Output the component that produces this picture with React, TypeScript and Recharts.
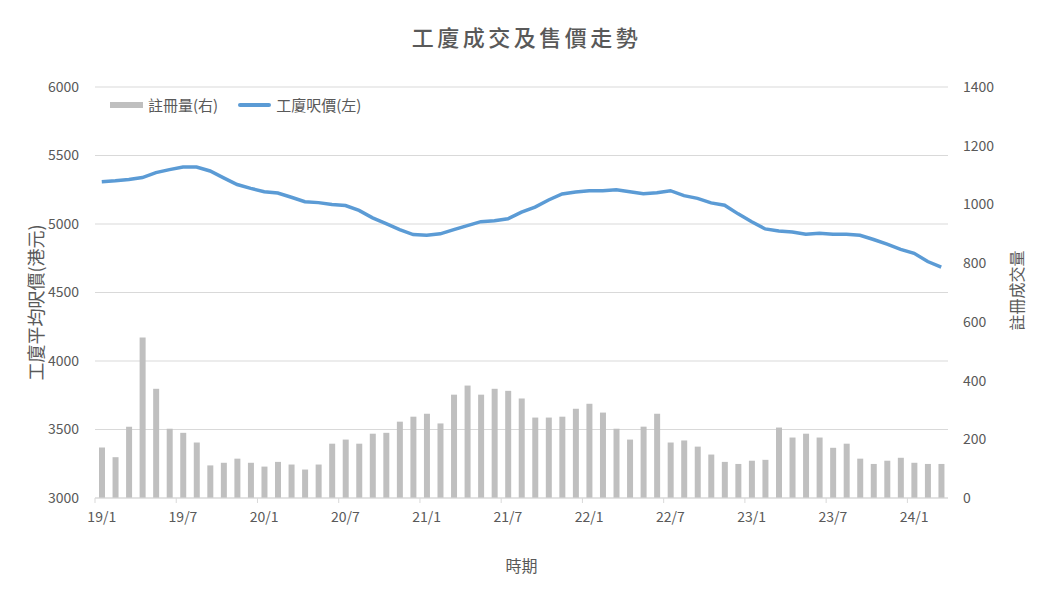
import React from 'react';
import {
  ComposedChart,
  Bar,
  Line,
  XAxis,
  YAxis,
  CartesianGrid,
  Legend,
} from 'recharts';

const months = [
  '19/1', '19/2', '19/3', '19/4', '19/5', '19/6', '19/7', '19/8', '19/9', '19/10', '19/11', '19/12',
  '20/1', '20/2', '20/3', '20/4', '20/5', '20/6', '20/7', '20/8', '20/9', '20/10', '20/11', '20/12',
  '21/1', '21/2', '21/3', '21/4', '21/5', '21/6', '21/7', '21/8', '21/9', '21/10', '21/11', '21/12',
  '22/1', '22/2', '22/3', '22/4', '22/5', '22/6', '22/7', '22/8', '22/9', '22/10', '22/11', '22/12',
  '23/1', '23/2', '23/3', '23/4', '23/5', '23/6', '23/7', '23/8', '23/9', '23/10', '23/11', '23/12',
  '24/1', '24/2', '24/3',
];

// 註冊量 (right axis)
const volume = [
  172, 139, 243, 547, 372, 236, 222, 189, 111, 120, 134, 120,
  107, 123, 114, 97, 114, 185, 199, 185, 219, 222, 260, 277,
  287, 254, 352, 383, 352, 372, 365, 339, 274, 274, 277, 304,
  321, 291, 236, 199, 243, 287, 189, 196, 175, 148, 123, 116,
  127, 130, 240, 206, 219, 206, 171, 185, 134, 116, 127, 137,
  120, 116, 116,
];

// 工廈呎價 (left axis)
const price = [
  5308, 5315, 5325, 5339, 5375, 5397, 5416, 5416, 5387, 5337, 5288, 5260,
  5236, 5226, 5195, 5163, 5156, 5142, 5135, 5099, 5045, 5002, 4959, 4923,
  4918, 4928, 4959, 4988, 5017, 5024, 5038, 5087, 5123, 5175, 5219, 5233,
  5243, 5243, 5250, 5236, 5221, 5228, 5243, 5207, 5187, 5154, 5137, 5074,
  5017, 4964, 4949, 4942, 4925, 4933, 4925, 4925, 4918, 4887, 4853, 4815,
  4786, 4726, 4685,
];

const leftTicks = [3000, 3500, 4000, 4500, 5000, 5500, 6000];
const rightTicks = [0, 200, 400, 600, 800, 1000, 1200, 1400];

const data = months.map((m, i) => ({ month: m, volume: volume[i], price: price[i] }));

const W = 1045;
const H = 593;
const LEFT_W = 95;
const RIGHT_W = 97;
const PLOT_W = W - LEFT_W - RIGHT_W;
const TICK_MARGIN = 14;
const TEXT = '#595959';
const FONT = '"Noto Sans CJK TC", "Noto Sans", sans-serif';

// tick mark sits on the left edge of the month, label in the middle
const MonthTick = (props: any) => {
  const { x, y, payload } = props;
  const half = PLOT_W / months.length / 2;
  return (
    <g>
      <line x1={x - half} x2={x - half} y1={y - TICK_MARGIN} y2={y - TICK_MARGIN + 5} stroke="#D9D9D9" />
      <text x={x} y={y} dy="0.71em" textAnchor="middle" fill={TEXT} fontSize={14}>
        {payload.value}
      </text>
    </g>
  );
};

// bars first, then the line
const LegendContent = (props: any) => {
  const items = [...props.payload].sort((a: any, b: any) => (a.type === 'rect' ? -1 : 0) - (b.type === 'rect' ? -1 : 0));
  return (
    <div style={{ display: 'flex', alignItems: 'center', fontSize: 15, color: TEXT, whiteSpace: 'nowrap' }}>
      {items.map((p: any) => (
        <div key={p.value} style={{ display: 'flex', alignItems: 'center', marginRight: 20 }}>
          <span
            style={{
              display: 'inline-block',
              width: 33,
              height: p.type === 'rect' ? 6 : 4,
              borderRadius: p.type === 'rect' ? 0 : 2,
              background: p.color,
              marginRight: 5,
            }}
          />
          {p.value}
        </div>
      ))}
    </div>
  );
};

export default function App() {
  return (
    <div style={{ position: 'absolute', left: 0, top: 0, width: W, height: H, fontFamily: FONT, background: '#fff' }}>
      <div
        style={{
          position: 'absolute',
          top: 20,
          left: 4,
          width: W,
          textAlign: 'center',
          fontSize: 22,
          letterSpacing: 3.5,
          color: TEXT,
          fontWeight: 500,
        }}
      >
        工廈成交及售價走勢
      </div>
      <ComposedChart width={W} height={H} data={data} margin={{ top: 87, right: 0, bottom: 0, left: 0 }}>
        <CartesianGrid yAxisId="left" vertical={false} stroke="#D9D9D9" />
        <XAxis
          dataKey="month"
          height={95}
          interval={5}
          tick={<MonthTick />}
          tickLine={false}
          tickSize={0}
          tickMargin={TICK_MARGIN}
          axisLine={{ stroke: '#D9D9D9' }}
          label={{
            content: ({ viewBox }: any) => (
              <text x={viewBox.x + viewBox.width / 2} y={viewBox.y + 67} textAnchor="middle" dominantBaseline="central" fill={TEXT} fontSize={16}>
                時期
              </text>
            ),
          }}
        />
        <YAxis
          yAxisId="left"
          width={LEFT_W}
          domain={[3000, 6000]}
          ticks={leftTicks}
          tick={{ fill: TEXT, fontSize: 14 }}
          tickLine={false}
          tickSize={0}
          tickMargin={16}
          axisLine={false}
          label={{
            content: ({ viewBox }: any) => {
              const cx = 35;
              const cy = viewBox.y + viewBox.height / 2 + 10;
              return (
                <text x={cx} y={cy} transform={`rotate(-90 ${cx} ${cy})`} textAnchor="middle" dominantBaseline="central" fill={TEXT} fontSize={18}>
                  工廈平均呎價(港元)
                </text>
              );
            },
          }}
        />
        <YAxis
          yAxisId="right"
          orientation="right"
          width={RIGHT_W}
          domain={[0, 1400]}
          ticks={rightTicks}
          tick={{ fill: TEXT, fontSize: 14 }}
          tickLine={false}
          tickSize={0}
          tickMargin={15}
          axisLine={false}
          label={{
            content: ({ viewBox }: any) => {
              const cx = 1016;
              const cy = viewBox.y + viewBox.height / 2 - 2;
              return (
                <text x={cx} y={cy} transform={`rotate(-90 ${cx} ${cy})`} textAnchor="middle" dominantBaseline="central" fill={TEXT} fontSize={16}>
                  註冊成交量
                </text>
              );
            },
          }}
        />
        <Legend
          layout="vertical"
          align="center"
          verticalAlign="middle"
          wrapperStyle={{ top: 94, left: 110, width: 'auto' }}
          content={<LegendContent />}
        />
        <Bar yAxisId="right" dataKey="volume" name="註冊量(右)" fill="#BFBFBF" barSize={6} legendType="rect" isAnimationActive={false} />
        <Line
          yAxisId="left"
          type="linear"
          dataKey="price"
          name="工廈呎價(左)"
          stroke="#5B9BD5"
          strokeWidth={3.5}
          dot={false}
          legendType="line"
          isAnimationActive={false}
        />
      </ComposedChart>
    </div>
  );
}
